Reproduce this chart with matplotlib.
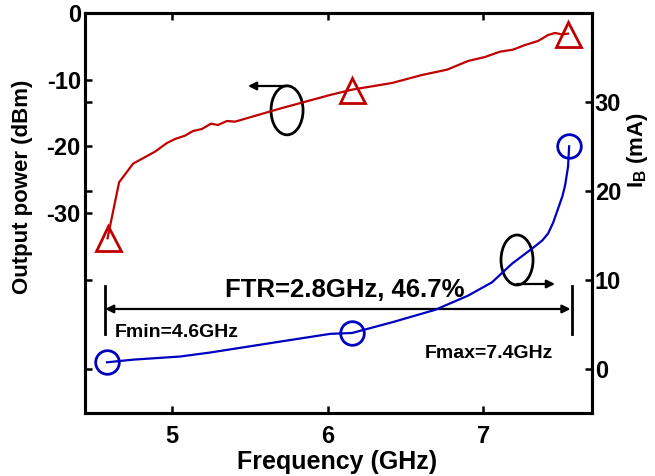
import numpy as np
import matplotlib.pyplot as plt
from matplotlib.patches import Ellipse

plt.rcParams['font.family'] = 'Liberation Sans'
plt.rcParams['font.weight'] = 'bold'
plt.rcParams['axes.unicode_minus'] = False
plt.rcParams['mathtext.fontset'] = 'custom'
plt.rcParams['mathtext.rm'] = 'Liberation Sans:bold'
plt.rcParams['mathtext.bf'] = 'Liberation Sans:bold'

# output power vs frequency (left axis)
freq_p = [4.585, 4.659, 4.749, 4.89, 4.967, 5.019, 5.083, 5.135, 5.192, 5.25,
          5.295, 5.353, 5.405, 5.70, 6.016, 6.157, 6.414, 6.607, 6.768, 6.903,
          7.012, 7.109, 7.192, 7.27, 7.353, 7.418, 7.462, 7.507, 7.546]
power = [-33.8, -25.4, -22.6, -20.8, -19.5, -18.9, -18.4, -17.7, -17.4, -16.6,
         -16.8, -16.2, -16.3, -14.3, -12.3, -11.5, -10.5, -9.3, -8.5, -7.2,
         -6.6, -5.8, -5.5, -4.8, -4.2, -3.3, -3.0, -3.2, -3.1]
mark_p = [0, 15, len(freq_p) - 1]

# bias current vs frequency (right axis)
freq_i = [4.581, 4.749, 5.051, 5.244, 5.61, 5.868, 6.016, 6.157, 6.414, 6.691,
          6.903, 7.057, 7.186, 7.315, 7.38, 7.418, 7.45, 7.482, 7.51, 7.527,
          7.546, 7.553]
ib = [0.7, 1.0, 1.35, 1.8, 2.8, 3.5, 3.9, 4.0, 5.2, 6.6,
      8.2, 9.7, 11.8, 13.5, 14.4, 15.2, 16.4, 18.0, 19.4, 20.6,
      22.7, 25.0]
mark_i = [0, 7, len(freq_i) - 1]

fmin_x, fmax_x = 4.569, 7.572
red = '#c00000'
blue = '#0000c0'

fig = plt.figure(figsize=(6.55, 4.76), dpi=100)
ax = fig.add_axes([0.1298, 0.1324, 0.774, 0.8403])
ax2 = ax.twinx()

ax.plot(freq_p, power, color=red, lw=1.6, marker='^', markevery=mark_p,
        ms=18, mfc='none', mec=red, mew=2)
ax2.plot(freq_i, ib, color=blue, lw=1.6, marker='o', markevery=mark_i,
         ms=17, mfc='none', mec=blue, mew=2)

ax.set_xlim(4.44, 7.70)
ax.set_ylim(-60, 0)
ax2.set_ylim(-5, 40)
ax.set_xticks([5, 6, 7])
ax.set_yticks([0, -10, -20, -30])
# right-axis tick positions also show up on the left spine
ax.set_yticks([-13.33, -26.67, -40, -53.33], minor=True)
ax2.set_yticks([0, 10, 20, 30])

for a in (ax, ax2):
    for s in a.spines.values():
        s.set_linewidth(2.2)
ax.tick_params(axis='x', direction='in', length=5, width=1.8, labelsize=17,
               pad=9, top=True)
ax.tick_params(axis='y', which='both', direction='in', length=5, width=1.8,
               labelsize=17, pad=3)
ax2.tick_params(axis='y', direction='in', length=5, width=1.8, labelsize=17, pad=2)

# FTR span
ax.annotate('', xy=(fmin_x, -44.4), xytext=(fmax_x - 0.01, -44.4),
            arrowprops=dict(arrowstyle='<|-|>', color='black', lw=1.6,
                            mutation_scale=12, shrinkA=0, shrinkB=0))
ax.plot([fmin_x, fmin_x], [-40.9, -48.1], color='black', lw=2)
ax.plot([fmax_x, fmax_x], [-40.9, -48.1], color='black', lw=2)
ax.text(6.112, -41.5, 'FTR=2.8GHz, 46.7%', fontsize=18.5, ha='center', va='center')
ax.text(4.633, -48.0, 'Fmin=4.6GHz', fontsize=14, ha='left', va='center')
ax.text(6.627, -51.1, 'Fmax=7.4GHz', fontsize=14, ha='left', va='center')

# curve markers
ax.add_patch(Ellipse((5.739, -14.6), 0.206, 7.35, fill=False, lw=2, ec='black'))
ax.annotate('', xy=(5.488, -10.95), xytext=(5.739, -10.95),
            arrowprops=dict(arrowstyle='-|>', color='black', lw=1.6,
                            mutation_scale=12, shrinkA=0, shrinkB=0))
ax.add_patch(Ellipse((7.218, -37.05), 0.206, 7.5, fill=False, lw=2, ec='black'))
ax.annotate('', xy=(7.462, -40.65), xytext=(7.218, -40.65),
            arrowprops=dict(arrowstyle='-|>', color='black', lw=1.6,
                            mutation_scale=12, shrinkA=0, shrinkB=0))

fig.text(0.0336, 0.607, 'Output power (dBm)', rotation=90, fontsize=16,
         ha='center', va='center')
fig.text(0.515, 0.0147, 'Frequency (GHz)', fontsize=18, ha='center', va='baseline')
fig.text(0.974, 0.685, r'I$_\mathbf{B}$ (mA)', rotation=90, fontsize=16,
         ha='center', va='center')

fig.savefig('out.png', dpi=100)
